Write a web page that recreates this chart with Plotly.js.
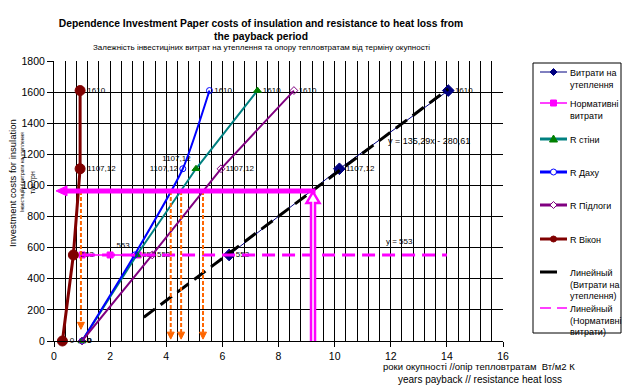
<!DOCTYPE html>
<html><head><meta charset="utf-8">
<script src="https://cdn.plot.ly/plotly-3.0.1.min.js"></script>
<style>html,body{margin:0;padding:0;background:#fff}#chart{width:623px;height:388px}</style>
</head><body><div id="chart"></div>
<script>
// ---------- data ----------
const costX  = [6.24, 10.17, 14.05];          // Витрати на утеплення
const costY  = [553, 1107.12, 1610];
const normX  = [1, 2, 3];                      // Нормативні витрати
const normY  = [553, 553, 553];
const wallX  = [1, 2.95, 5.06, 7.25];          // R стіни
const wallY  = [0, 553, 1107.12, 1610];
const roofX  = [1, 2.87, 4.59, 5.54];          // R Даху
const roofY  = [0, 553, 1107.12, 1610];
const floorX = [1, 3.5, 5.95, 8.55];           // R Підлоги
const floorY = [0, 553, 1107.12, 1610];
const winX   = [0.3, 0.69, 0.93, 0.93];        // R Вікон
const winY   = [0, 553, 1107.12, 1610];
const trendCostX = [3.2, 14.05];               // linear trend of costs
const trendSlope = 135.29, trendIntercept = -280.61;
const trendNormX = [1, 14];                    // linear trend of normative
const trendNormLevel = 553;
const arrowLevel = 965;                        // payback reading level
const arrowX = 9.23;                           // payback reading year
const dropX = [0.96, 4.16, 4.53, 5.31];        // read-off years
const dropEnd = [75, 12, 12, 12];
const seriesNames = ['Витрати на<br>утеплення','Нормативні<br>витрати','R стіни','R Даху','R Підлоги','R Вікон',
  'Линейный<br>(Витрати на<br>утеплення)','Линейный<br>(Нормативні<br>витрати)'];
const xTitle1 = 'роки окупності //опір тепловтратам  Вт/м2 К';
const xTitle2 = 'years payback // resistance heat loss';
const yTitle1 = 'Investment costs for insulation';
const yTitle2 = 'Інвестиційні витрати на утеплення';
const yTitle3 = 'тис.грн';

// ---------- geometry ----------
const L=54, R=503, T=61, B=341, W=623, H=388;
const XR=[0,16], YR=[0,1800];
const xs = (R-L)/(XR[1]-XR[0]), ys = (B-T)/(YR[1]-YR[0]);
const dxp = p => p/xs, dyp = p => p/ys;     // pixels -> data units
const px = x => (x-L)/(R-L), py = y => (B-y)/(B-T); // pixels -> paper
const lab = v => String(v).replace('.', ',');
const FONT = 'Arial, "Liberation Sans", sans-serif';

function sc(x, y, name, color, width, sym, msize, mcolor, opts) {
  return Object.assign({
    type:'scatter', x:x, y:y, name:name, mode:'lines+markers+text',
    text:y.map(lab), textposition:'middle right',
    textfont:{family:FONT, size:8, color:'black'},
    line:{color:color, width:width},
    marker:{symbol:sym, size:msize, color:mcolor, line:{color:mcolor, width:1}},
    cliponaxis:false, hoverinfo:'x+y'
  }, opts||{});
}

const traces = [
  sc(costX, costY, 'Витрати на утеплення', '#000080', 1, 'diamond', 9, '#000080'),
  sc(normX, normY, 'Нормативні витрати', '#FF00FF', 1.5, 'square', 6, '#FF00FF', {mode:'lines+markers'}),
  sc(wallX, wallY, 'R стіни', '#008080', 2, 'triangle-up', 7, '#008000',
     {textposition:['middle right','middle right','top left','middle right']}),
  sc(roofX, roofY, 'R Даху', '#0000FF', 2, 'circle-open', 6, '#0000FF',
     {line:{color:'#0000FF', width:2, shape:'spline', smoothing:0.6},
      textposition:['middle right','top left','middle left','middle right']}),
  sc(floorX, floorY, 'R Підлоги', '#800080', 2, 'diamond-open', 6, '#800080'),
  sc(winX, winY, 'R Вікон', '#800000', 3, 'circle', 10, '#800000'),
  {type:'scatter', mode:'lines', name:'Линейный (Витрати на утеплення)', x:trendCostX,
   y:trendCostX.map(v=>trendSlope*v+trendIntercept), line:{color:'black', width:3, dash:'14px,7px'}, hoverinfo:'x+y'},
  {type:'scatter', mode:'lines', name:'Линейный (Нормативні витрати)', x:trendNormX,
   y:trendNormX.map(()=>trendNormLevel), line:{color:'#FF00FF', width:3, dash:'13px,7px'}, hoverinfo:'x+y'}
];

// ---------- arrows ----------
const shapes = [];
const ORANGE = '#FF6600', MAG = '#FF00FF';
dropX.forEach((x,i)=>{
  const hl = dyp(7), hw = dxp(3.5);
  shapes.push({type:'line', xref:'x', yref:'y', x0:x, x1:x, y0:arrowLevel, y1:dropEnd[i]+hl,
    line:{color:ORANGE, width:2, dash:'4px,2px'}});
  shapes.push({type:'path', xref:'x', yref:'y', path:`M ${x-hw},${dropEnd[i]+hl} L ${x+hw},${dropEnd[i]+hl} L ${x},${dropEnd[i]} Z`,
    fillcolor:ORANGE, line:{color:ORANGE, width:1}});
});
// horizontal solid arrow (pointing to the cost axis)
{
  const tipX = dxp(2), baseX = dxp(13), hh = dyp(5);
  shapes.push({type:'line', xref:'x', yref:'y', x0:baseX, x1:arrowX+dxp(2.5), y0:arrowLevel, y1:arrowLevel,
    line:{color:MAG, width:5}});
  shapes.push({type:'path', xref:'x', yref:'y', path:`M ${baseX},${arrowLevel-hh} L ${baseX},${arrowLevel+hh} L ${tipX},${arrowLevel} Z`,
    fillcolor:MAG, line:{color:MAG, width:1}});
}
// vertical hollow arrow (from the year axis)
{
  const sw = dxp(2), hw = dxp(6.5), tip = arrowLevel - dyp(1), base = tip - dyp(11);
  shapes.push({type:'path', xref:'x', yref:'y',
    path:`M ${arrowX-sw},0 L ${arrowX-sw},${base} L ${arrowX-hw},${base} L ${arrowX},${tip} L ${arrowX+hw},${base} L ${arrowX+sw},${base} L ${arrowX+sw},0`,
    fillcolor:'white', line:{color:MAG, width:2.5}});
}

// ---------- custom legend ----------
shapes.push({type:'rect', xref:'paper', yref:'paper', x0:px(533), x1:px(621), y0:py(63), y1:py(333),
  line:{color:'black', width:1}, fillcolor:'white', layer:'above'});
const legY = [72, 103, 139, 172, 205, 239, 272, 308];
const legSty = [
  {c:'#000080', w:1, m:'diamond', mc:'#000080'},
  {c:'#FF00FF', w:1.5, m:'square', mc:'#FF00FF'},
  {c:'#008080', w:3, m:'triangle', mc:'#008000'},
  {c:'#0000FF', w:3, m:'ocircle', mc:'#0000FF'},
  {c:'#800080', w:3, m:'odiamond', mc:'#800080'},
  {c:'#800000', w:3, m:'circle', mc:'#800000'},
  {c:'black', w:3, m:null, x1:557},
  {c:'#FF00FF', w:1.5, m:null, dash:'11px,6px'}
];
const annotations = [];
legSty.forEach((s,i)=>{
  const y = legY[i];
  shapes.push({type:'line', xref:'paper', yref:'paper', x0:px(540), x1:px(s.x1||567), y0:py(y), y1:py(y),
    line:{color:s.c, width:s.w, dash:s.dash||'solid'}});
  const cx = 553.5;
  const poly = pts => 'M ' + pts.map(p=>px(p[0])+','+py(p[1])).join(' L ') + ' Z';
  if (s.m==='diamond' || s.m==='odiamond') {
    const r = 3.5;
    shapes.push({type:'path', xref:'paper', yref:'paper', path:poly([[cx,y-r],[cx+r,y],[cx,y+r],[cx-r,y]]),
      fillcolor: s.m==='diamond'? s.mc : 'white', line:{color:s.mc, width:1}});
  } else if (s.m==='square') {
    shapes.push({type:'rect', xref:'paper', yref:'paper', x0:px(cx-3), x1:px(cx+3), y0:py(y+3), y1:py(y-3),
      fillcolor:s.mc, line:{color:s.mc, width:1}});
  } else if (s.m==='triangle') {
    shapes.push({type:'path', xref:'paper', yref:'paper', path:poly([[cx,y-4],[cx+4,y+3],[cx-4,y+3]]),
      fillcolor:s.mc, line:{color:s.mc, width:1}});
  } else if (s.m==='ocircle' || s.m==='circle') {
    const r = 3;
    shapes.push({type:'circle', xref:'paper', yref:'paper', x0:px(cx-r), x1:px(cx+r), y0:py(y+r), y1:py(y-r),
      fillcolor: s.m==='circle'? s.mc : 'white', line:{color:s.mc, width:1}});
  }
  annotations.push({xref:'paper', yref:'paper', x:px(568), y:py(y-6), xanchor:'left', yanchor:'top', align:'left',
    showarrow:false, text:seriesNames[i], font:{family:FONT, size:9, color:'black'}});
});

// ---------- texts ----------
annotations.push(
  {xref:'paper', yref:'paper', x:px(261), y:py(48), xanchor:'center', yanchor:'middle', showarrow:false,
   text:'Залежність інвестиціних витрат на утеплення та опору тепловтратам від терміну окупності',
   font:{family:FONT, size:8, color:'black'}},
  {xref:'x', yref:'y', x:13.35, y:1283, xanchor:'center', yanchor:'middle', showarrow:false,
   text:'y = 135,29x - 280,61', font:{family:FONT, size:9, color:'black'}},
  {xref:'x', yref:'y', x:12.32, y:638, xanchor:'center', yanchor:'middle', showarrow:false,
   text:'y = 553', font:{family:FONT, size:8, color:'black'}},
  {xref:'paper', yref:'paper', x:px(479), y:py(366), xanchor:'center', yanchor:'middle', showarrow:false,
   text:xTitle1, font:{family:FONT, size:9.5, color:'black'}},
  {xref:'paper', yref:'paper', x:px(480), y:py(379), xanchor:'center', yanchor:'middle', showarrow:false,
   text:xTitle2, font:{family:FONT, size:10, color:'black'}},
  {xref:'paper', yref:'paper', x:px(12), y:py(183), xanchor:'center', yanchor:'middle', showarrow:false, textangle:-90,
   text:yTitle1, font:{family:FONT, size:9.5, color:'black'}},
  {xref:'paper', yref:'paper', x:px(22), y:py(172), xanchor:'center', yanchor:'middle', showarrow:false, textangle:-90,
   text:yTitle2, font:{family:FONT, size:5, color:'black'}},
  {xref:'paper', yref:'paper', x:px(33), y:py(183), xanchor:'center', yanchor:'middle', showarrow:false, textangle:-90,
   text:yTitle3, font:{family:FONT, size:7, color:'black'}}
);

const layout = {
  width:W, height:H,
  margin:{l:L, r:W-R, t:T, b:H-B, pad:0},
  paper_bgcolor:'white', plot_bgcolor:'white',
  font:{family:FONT, size:10, color:'black'},
  showlegend:false,
  title:{text:'<b>Dependence Investment Paper costs of insulation and resistance to heat loss from</b><br><b>the payback period</b>',
    font:{family:FONT, size:10.3, color:'black'}, x:261/W, xanchor:'center', xref:'container',
    y:1-27/H, yanchor:'top', yref:'container'},
  xaxis:{range:XR, dtick:2, tick0:0, showgrid:true, gridcolor:'black', gridwidth:1,
    minor:{dtick:0.4, tick0:0, showgrid:true, gridcolor:'black', gridwidth:1, ticks:''},
    showline:true, linecolor:'black', linewidth:1, ticks:'outside', ticklen:5, tickcolor:'black',
    zeroline:false, tickfont:{family:FONT, size:10.5, color:'black'}, fixedrange:true},
  yaxis:{range:YR, dtick:200, tick0:0, showgrid:true, gridcolor:'black', gridwidth:1,
    showline:true, linecolor:'black', linewidth:1, ticks:'outside', ticklen:6, tickcolor:'black',
    zeroline:false, tickfont:{family:FONT, size:10.5, color:'black'}, fixedrange:true},
  shapes:shapes, annotations:annotations
};

Plotly.newPlot('chart', traces, layout, {displayModeBar:false, staticPlot:true});
</script>
</body></html>
